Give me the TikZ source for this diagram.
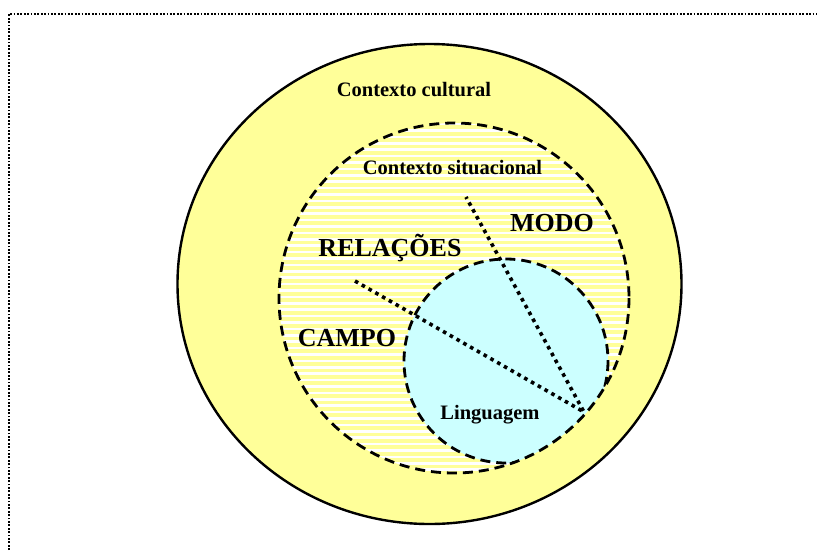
\documentclass[tikz,border=0pt]{standalone}
\usepackage{fontspec}
\setmainfont{Liberation Serif}
\definecolor{amarelo}{HTML}{FFFF99}
\definecolor{ciano}{HTML}{CCFFFF}
\begin{document}
\begin{tikzpicture}[x=1pt,y=-1pt, line join=round,
  rotulo/.style={font=\fontsize{20.5}{24}\selectfont\bfseries},
  grande/.style={font=\fontsize{26}{30}\selectfont\bfseries},
  tracejado/.style={line width=2.8pt, dash pattern=on 10pt off 6pt},
  pontilhado/.style={line width=3.6pt, dash pattern=on 3.6pt off 4.2pt}]
\def\sx{454} \def\sy{298} \def\sr{175} % contexto situacional
\def\lx{506} \def\ly{361} \def\lr{102} % linguagem
\useasboundingbox (0,0) rectangle (817,550);
% moldura
\draw[line width=1.8pt, dash pattern=on 1.8pt off 1.6pt] (9,550)--(9,14)--(817,14);
% contexto cultural
\draw[fill=amarelo, line width=2.4pt] (429.5,284) ellipse [x radius=252, y radius=240];
% contexto situacional listrado
\begin{scope}
  \clip (\sx,\sy) circle (\sr);
  \fill[amarelo] (\sx,\sy) circle (\sr);
  \foreach \y in {124,130.4,...,476} \draw[white, line width=2.6pt] (270,\y)--(640,\y);
  \fill[ciano] (\lx,\ly) circle (\lr);
  \draw[tracejado] (\lx,\ly) circle (\lr);
\end{scope}
\draw[tracejado] (\sx,\sy) circle (\sr);
% linhas pontilhadas
\coordinate (vertice) at (584,412);
\coordinate (pontaA) at (355,281);
\coordinate (pontaB) at (466,197);
\draw[pontilhado] (pontaA)--(vertice)--(pontaB);
% textos
\node[rotulo] (cultural) at (414,90) {Contexto cultural};
\node[rotulo] (situacional) at (452.5,168) {Contexto situacional};
\node[grande] (modo) at (552,223) {MODO};
\node[grande] (relacoes) at (390,248) {RELAÇÕES};
\node[grande] (campo) at (347,338) {CAMPO};
\node[rotulo] (linguagem) at (490,415) {Linguagem};
\end{tikzpicture}
\end{document}
